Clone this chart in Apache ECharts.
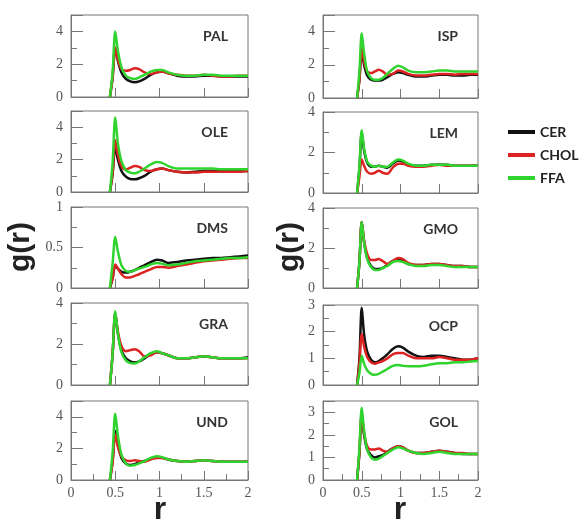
<!DOCTYPE html>
<html>
<head>
<meta charset="utf-8">
<script src="https://cdn.jsdelivr.net/npm/echarts@6/dist/echarts.min.js"></script>
<style>
  html, body { margin: 0; padding: 0; background: #fff; }
  #main { width: 585px; height: 523px; }
</style>
</head>
<body>
<div id="main"></div>
<script>
// r grid shared by all panels
var R = [0.44, 0.47, 0.50, 0.53, 0.57, 0.62, 0.67, 0.72, 0.77, 0.83, 0.90, 0.97, 1.03, 1.10, 1.20, 1.30, 1.40, 1.50, 1.60, 1.70, 1.80, 1.90, 2.00];
var seriesNames = ['CER', 'CHOL', 'FFA'];
var xTicks = [0, 0.5, 1, 1.5, 2];

// g(r) per panel: CER, CHOL, FFA
var PAL_CER  = [0, 1.2, 3.0, 2.2, 1.5, 1.1, 0.95, 0.9, 0.95, 1.1, 1.35, 1.5, 1.55, 1.45, 1.3, 1.25, 1.25, 1.3, 1.3, 1.25, 1.25, 1.25, 1.25];
var PAL_CHOL = [0, 1.2, 3.0, 2.3, 1.7, 1.6, 1.65, 1.75, 1.7, 1.5, 1.4, 1.5, 1.55, 1.45, 1.35, 1.3, 1.3, 1.35, 1.3, 1.25, 1.25, 1.3, 1.3];
var PAL_FFA  = [0, 1.5, 4.0, 2.8, 1.8, 1.3, 1.15, 1.1, 1.2, 1.35, 1.55, 1.65, 1.65, 1.5, 1.35, 1.3, 1.3, 1.35, 1.35, 1.3, 1.3, 1.3, 1.3];

var OLE_CER  = [0, 1.1, 2.8, 2.0, 1.3, 0.95, 0.8, 0.78, 0.85, 1.0, 1.25, 1.4, 1.45, 1.35, 1.25, 1.2, 1.25, 1.3, 1.3, 1.3, 1.3, 1.3, 1.3];
var OLE_CHOL = [0, 1.2, 3.2, 2.3, 1.6, 1.4, 1.5, 1.6, 1.55, 1.35, 1.3, 1.4, 1.45, 1.35, 1.25, 1.2, 1.2, 1.25, 1.25, 1.25, 1.25, 1.25, 1.3];
var OLE_FFA  = [0, 1.8, 4.6, 3.0, 1.9, 1.35, 1.2, 1.15, 1.25, 1.45, 1.7, 1.85, 1.8, 1.6, 1.45, 1.45, 1.45, 1.45, 1.45, 1.4, 1.4, 1.4, 1.4];

var DMS_CER  = [0, 0.12, 0.27, 0.24, 0.2, 0.19, 0.2, 0.22, 0.25, 0.28, 0.32, 0.35, 0.34, 0.31, 0.32, 0.34, 0.35, 0.36, 0.37, 0.37, 0.38, 0.39, 0.4];
var DMS_CHOL = [0, 0.12, 0.29, 0.24, 0.17, 0.13, 0.13, 0.15, 0.17, 0.2, 0.23, 0.26, 0.26, 0.25, 0.27, 0.29, 0.31, 0.33, 0.34, 0.35, 0.36, 0.37, 0.37];
var DMS_FFA  = [0, 0.3, 0.63, 0.45, 0.28, 0.21, 0.2, 0.22, 0.24, 0.26, 0.29, 0.31, 0.3, 0.28, 0.29, 0.31, 0.33, 0.34, 0.35, 0.36, 0.37, 0.37, 0.38];

var GRA_CER  = [0, 1.5, 3.5, 2.5, 1.7, 1.3, 1.15, 1.1, 1.15, 1.3, 1.5, 1.6, 1.55, 1.45, 1.3, 1.3, 1.35, 1.4, 1.35, 1.3, 1.3, 1.3, 1.35];
var GRA_CHOL = [0, 1.5, 3.5, 2.6, 1.9, 1.65, 1.7, 1.75, 1.65, 1.4, 1.45, 1.6, 1.55, 1.45, 1.3, 1.3, 1.35, 1.4, 1.35, 1.3, 1.3, 1.3, 1.3];
var GRA_FFA  = [0, 1.5, 3.6, 2.5, 1.6, 1.2, 1.07, 1.05, 1.15, 1.35, 1.55, 1.65, 1.55, 1.45, 1.3, 1.3, 1.35, 1.4, 1.35, 1.3, 1.3, 1.3, 1.3];

var UND_CER  = [0, 1.2, 3.1, 2.2, 1.4, 1.05, 0.95, 1.0, 1.1, 1.2, 1.35, 1.45, 1.4, 1.3, 1.2, 1.15, 1.2, 1.25, 1.2, 1.15, 1.15, 1.15, 1.15];
var UND_CHOL = [0, 1.1, 2.9, 2.1, 1.5, 1.25, 1.2, 1.25, 1.2, 1.15, 1.3, 1.4, 1.4, 1.3, 1.2, 1.15, 1.2, 1.25, 1.2, 1.15, 1.15, 1.15, 1.15];
var UND_FFA  = [0, 1.7, 4.2, 2.8, 1.6, 1.05, 0.9, 0.95, 1.05, 1.2, 1.4, 1.5, 1.45, 1.3, 1.2, 1.15, 1.2, 1.25, 1.2, 1.15, 1.15, 1.15, 1.15];

var ISP_CER  = [0, 1.1, 2.9, 2.0, 1.35, 1.1, 1.05, 1.05, 1.1, 1.25, 1.45, 1.55, 1.5, 1.4, 1.3, 1.3, 1.35, 1.4, 1.4, 1.35, 1.35, 1.4, 1.4];
var ISP_CHOL = [0, 1.1, 3.0, 2.2, 1.6, 1.5, 1.6, 1.7, 1.6, 1.4, 1.45, 1.65, 1.6, 1.45, 1.35, 1.35, 1.4, 1.45, 1.45, 1.4, 1.45, 1.45, 1.45];
var ISP_FFA  = [0, 1.6, 3.9, 2.7, 1.6, 1.2, 1.1, 1.1, 1.2, 1.45, 1.75, 1.95, 1.85, 1.65, 1.55, 1.55, 1.6, 1.65, 1.65, 1.6, 1.6, 1.6, 1.6];

var LEM_CER  = [0, 1.2, 3.0, 2.1, 1.5, 1.3, 1.3, 1.35, 1.3, 1.25, 1.45, 1.6, 1.55, 1.4, 1.35, 1.35, 1.4, 1.4, 1.4, 1.35, 1.35, 1.35, 1.35];
var LEM_CHOL = [0, 0.8, 1.65, 1.35, 1.05, 0.95, 1.0, 1.1, 1.0, 0.95, 1.25, 1.45, 1.45, 1.35, 1.3, 1.3, 1.35, 1.4, 1.35, 1.35, 1.35, 1.35, 1.35];
var LEM_FFA  = [0, 1.3, 3.1, 2.2, 1.55, 1.35, 1.3, 1.35, 1.3, 1.3, 1.5, 1.65, 1.6, 1.45, 1.35, 1.35, 1.4, 1.4, 1.4, 1.35, 1.35, 1.35, 1.35];

var GMO_CER  = [0, 1.3, 3.3, 2.3, 1.5, 1.1, 0.95, 0.95, 1.0, 1.15, 1.35, 1.4, 1.35, 1.2, 1.15, 1.15, 1.2, 1.2, 1.15, 1.1, 1.1, 1.05, 1.05];
var GMO_CHOL = [0, 1.3, 3.3, 2.4, 1.7, 1.4, 1.4, 1.45, 1.35, 1.2, 1.35, 1.5, 1.45, 1.25, 1.15, 1.15, 1.2, 1.2, 1.15, 1.1, 1.1, 1.05, 1.05];
var GMO_FFA  = [0, 1.3, 3.3, 2.3, 1.45, 1.05, 0.9, 0.9, 1.0, 1.1, 1.3, 1.35, 1.3, 1.2, 1.1, 1.1, 1.15, 1.15, 1.1, 1.05, 1.05, 1.05, 1.05];

var OCP_CER  = [0, 1.0, 2.9, 1.9, 1.25, 0.95, 0.85, 0.9, 1.0, 1.15, 1.35, 1.45, 1.4, 1.25, 1.1, 1.05, 1.1, 1.1, 1.05, 1.0, 0.95, 0.95, 1.0];
var OCP_CHOL = [0, 0.8, 1.9, 1.45, 1.05, 0.85, 0.8, 0.85, 0.9, 1.0, 1.15, 1.2, 1.2, 1.1, 1.0, 1.0, 1.0, 1.05, 1.0, 0.95, 0.95, 0.95, 1.0];
var OCP_FFA  = [0, 0.45, 1.1, 0.8, 0.55, 0.42, 0.38, 0.42, 0.5, 0.6, 0.72, 0.75, 0.72, 0.7, 0.7, 0.72, 0.78, 0.82, 0.82, 0.85, 0.85, 0.88, 0.9];

var GOL_CER  = [0, 1.2, 2.9, 2.0, 1.35, 1.1, 1.0, 1.05, 1.1, 1.25, 1.4, 1.5, 1.45, 1.3, 1.2, 1.2, 1.25, 1.3, 1.25, 1.2, 1.15, 1.15, 1.15];
var GOL_CHOL = [0, 1.2, 2.9, 2.1, 1.5, 1.35, 1.35, 1.4, 1.3, 1.25, 1.4, 1.5, 1.45, 1.3, 1.2, 1.2, 1.25, 1.3, 1.25, 1.2, 1.2, 1.15, 1.15];
var GOL_FFA  = [0, 1.4, 3.2, 2.2, 1.35, 1.0, 0.9, 0.95, 1.05, 1.2, 1.35, 1.45, 1.4, 1.3, 1.2, 1.15, 1.2, 1.25, 1.2, 1.15, 1.15, 1.15, 1.15];

var colors = ['#111111', '#dd2222', '#2fd42f'];

// panel layout: name, data, y max, y interval, grid box
var panels = [
  {name: 'PAL', data: [PAL_CER, PAL_CHOL, PAL_FFA], max: 5,   step: 2,   box: [71, 15, 177, 82]},
  {name: 'OLE', data: [OLE_CER, OLE_CHOL, OLE_FFA], max: 5,   step: 2,   box: [71, 111, 177, 81]},
  {name: 'DMS', data: [DMS_CER, DMS_CHOL, DMS_FFA], max: 1,   step: 0.5, box: [71, 207, 177, 81]},
  {name: 'GRA', data: [GRA_CER, GRA_CHOL, GRA_FFA], max: 4,   step: 2,   box: [71, 303, 177, 82]},
  {name: 'UND', data: [UND_CER, UND_CHOL, UND_FFA], max: 5,   step: 2,   box: [71, 401, 177, 79], bottom: true},
  {name: 'ISP', data: [ISP_CER, ISP_CHOL, ISP_FFA], max: 5,   step: 2,   box: [323, 15, 155, 83]},
  {name: 'LEM', data: [LEM_CER, LEM_CHOL, LEM_FFA], max: 4,   step: 2,   box: [323, 112, 155, 81]},
  {name: 'GMO', data: [GMO_CER, GMO_CHOL, GMO_FFA], max: 4,   step: 2,   box: [323, 208, 155, 80]},
  {name: 'OCP', data: [OCP_CER, OCP_CHOL, OCP_FFA], max: 3,   step: 1,   box: [323, 305, 155, 80]},
  {name: 'GOL', data: [GOL_CER, GOL_CHOL, GOL_FFA], max: 3.5, step: 1,   box: [323, 401, 155, 79], bottom: true}
];

var axisGrey = '#777';
var labelFont = {color: '#555', fontSize: 14, fontFamily: 'Liberation Serif'};

var grids = [], xAxes = [], yAxes = [], series = [], titles = [];

panels.forEach(function (p, i) {
  var b = p.box;
  grids.push({left: b[0], top: b[1], width: b[2], height: b[3], show: true,
    borderColor: axisGrey, borderWidth: 1, backgroundColor: 'transparent'});

  xAxes.push({
    type: 'value', gridIndex: i, min: 0, max: 2, interval: 0.5,
    axisLine: {show: true, lineStyle: {color: axisGrey}},
    axisTick: {show: true, inside: true, length: 9, lineStyle: {color: axisGrey}},
    minorTick: {show: !!p.bottom, splitNumber: 2, length: 6, lineStyle: {color: axisGrey}},
    splitLine: {show: false},
    axisLabel: Object.assign({show: !!p.bottom, margin: 6, showMinLabel: true, showMaxLabel: true}, labelFont)
  });

  yAxes.push({
    type: 'value', gridIndex: i, min: 0, max: p.max, interval: p.step,
    axisLine: {show: true, lineStyle: {color: axisGrey}},
    axisTick: {show: true, inside: true, length: 12, lineStyle: {color: axisGrey}},
    minorTick: {show: true, splitNumber: 2, length: 6, lineStyle: {color: axisGrey}},
    splitLine: {show: false},
    axisLabel: Object.assign({margin: 8, formatter: function (v) {
      var k = v / p.step;
      return Math.abs(k - Math.round(k)) < 1e-6 ? String(v) : '';
    }}, labelFont)
  });

  p.data.forEach(function (vals, s) {
    series.push({
      name: seriesNames[s], type: 'line', xAxisIndex: i, yAxisIndex: i,
      showSymbol: false, smooth: 0.3, color: colors[s],
      lineStyle: {width: 2.5, color: colors[s]},
      data: R.map(function (r, j) { return [r, vals[j]]; })
    });
  });

  titles.push({
    text: p.name, right: 585 - (b[0] + b[2]) + 15, top: b[1] + 9,
    textStyle: {fontSize: 14, fontWeight: 'bold', color: '#333', fontFamily: 'Lato'}
  });
});

var chart = echarts.init(document.getElementById('main'), null, {renderer: 'canvas'});
chart.setOption({
  animation: false,
  title: titles,
  grid: grids,
  xAxis: xAxes,
  yAxis: yAxes,
  series: series,
  legend: {
    data: seriesNames, orient: 'vertical', left: 503, top: 119,
    icon: 'rect', itemWidth: 27, itemHeight: 4, itemGap: 7,
    textStyle: {fontSize: 14, fontWeight: 'bold', color: '#222', fontFamily: 'Lato', lineHeight: 16}
  },
  graphic: [
    {type: 'text', x: 21, y: 247, rotation: Math.PI / 2,
      style: {text: 'g(r)', font: 'bold 30px "Liberation Sans"', fill: '#222', textAlign: 'center', textVerticalAlign: 'middle'}},
    {type: 'text', x: 290, y: 247, rotation: Math.PI / 2,
      style: {text: 'g(r)', font: 'bold 30px "Liberation Sans"', fill: '#222', textAlign: 'center', textVerticalAlign: 'middle'}},
    {type: 'text', x: 160, y: 510,
      style: {text: 'r', font: 'bold 32px "Liberation Sans"', fill: '#222', textAlign: 'center', textVerticalAlign: 'middle'}},
    {type: 'text', x: 400, y: 510,
      style: {text: 'r', font: 'bold 32px "Liberation Sans"', fill: '#222', textAlign: 'center', textVerticalAlign: 'middle'}}
  ]
});
</script>
</body>
</html>
